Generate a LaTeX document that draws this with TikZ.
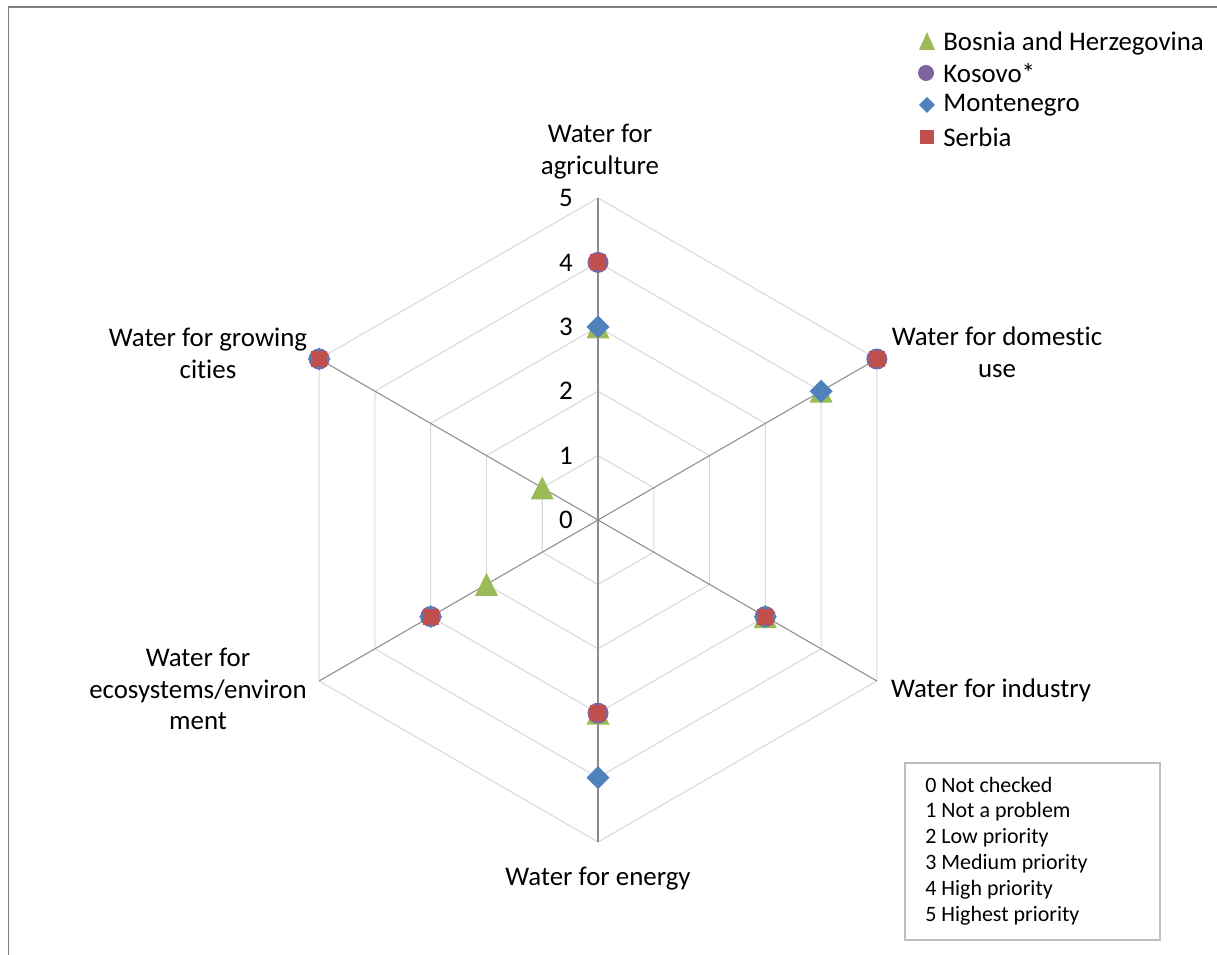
\documentclass[tikz,border=0pt]{standalone}
\usepackage{fontspec}
\setmainfont[Ligatures=NoCommon]{Carlito}
\usetikzlibrary{positioning}
\definecolor{bosniacol}{HTML}{9BBB59}
\definecolor{kosovocol}{HTML}{8064A2}
\definecolor{montecol}{HTML}{4F81BD}
\definecolor{serbiacol}{HTML}{C0504D}
\tikzset{
  ring/.style={draw=black!15, line width=0.6pt},
  spoke/.style={draw=black!45, line width=0.6pt},
  axislabel/.style={font=\fontsize{15.3}{18.1}\selectfont, align=center, inner sep=0pt},
  numlabel/.style={font=\fontsize{15.3}{18.1}\selectfont, inner sep=0pt},
  legendtext/.style={font=\fontsize{15.3}{18.1}\selectfont, anchor=west, inner sep=0pt},
  scalebox/.style={draw=black!25, line width=0.9pt},
  frame/.style={draw=black!50, line width=1.1pt}
}
\begin{document}
\begin{tikzpicture}[x=0.02cm,y=0.02cm]
  \useasboundingbox (0,0) rectangle (1217,955);
  \draw[frame] (8.5,0) -- (8.5,948) -- (1217,948);
  % grid rings and spokes
  \begin{scope}[shift={(598,435)}]
    \foreach \k in {1,...,5}{\draw[ring] (90:\k*64.4) -- (30:\k*64.4) -- (-30:\k*64.4) -- (-90:\k*64.4) -- (210:\k*64.4) -- (150:\k*64.4) -- cycle;}
    \foreach \a in {90,30,-30,-90,210,150}{\draw[spoke] (0,0) -- (\a:322);}
    \foreach \k in {0,...,5}{\node[numlabel] (n\k) at (-32,\k*64.4) {\k};}
    % data markers
    \foreach \a/\v in {90/3,30/4,-30/3,-90/3,210/2,150/1}{\fill[bosniacol] (\a:\v*64.4) ++(0,11.5) -- ++(11.5,-23) -- ++(-23,0) -- cycle;}
    \foreach \a/\v in {90/4,30/5,-30/3,-90/3,210/3,150/5}{\fill[kosovocol] (\a:\v*64.4) circle (10.5);}
    \foreach \a/\v in {90/3,30/4,-30/3,-90/4,210/3,150/5}{\fill[montecol] (\a:\v*64.4) ++(0,11.5) -- ++(11.5,-11.5) -- ++(-11.5,-11.5) -- ++(-11.5,11.5) -- cycle;}
    \foreach \a/\v in {90/4,30/5,-30/3,-90/3,210/3,150/5}{\fill[serbiacol] (\a:\v*64.4) ++(-8,-8) rectangle ++(16,16);}
  \end{scope}
  % axis labels
  \node[axislabel] (agri) at (600,803) {Water for\\agriculture};
  \node[axislabel] (dom) at (997,603) {Water for domestic\\use};
  \node[axislabel] (ind) at (991,265) {Water for industry};
  \node[axislabel] (ener) at (598,76) {Water for energy};
  \node[axislabel] (eco) at (198,266) {Water for\\ecosystems/environ\\ment};
  \node[axislabel] (city) at (208,602) {Water for growing\\cities};
  % legend
  \fill[bosniacol] (927,923) -- (935,905) -- (919,905) -- cycle;
  \fill[kosovocol] (926,882) circle (8);
  \fill[montecol] (927,858) -- (935,850) -- (927,842) -- (919,850) -- cycle;
  \fill[serbiacol] (920,811) rectangle (934,825);
  \node[legendtext] (lbos) at (943,912) {Bosnia and Herzegovina};
  \node[legendtext] (lkos) at (943,882) {Kosovo*};
  \node[legendtext] (lmon) at (943,850) {Montenegro};
  \node[legendtext] (lser) at (943,818) {Serbia};
  % priority scale
  \draw[scalebox] (905,15) rectangle (1160,192);
  \node[font=\fontsize{12.5}{14.7}\selectfont, align=left, anchor=west, inner sep=0pt] (prio) at (925,104) {0 Not checked\\1 Not a problem\\2 Low priority\\3 Medium priority\\4 High priority\\5 Highest priority};
\end{tikzpicture}
\end{document}
